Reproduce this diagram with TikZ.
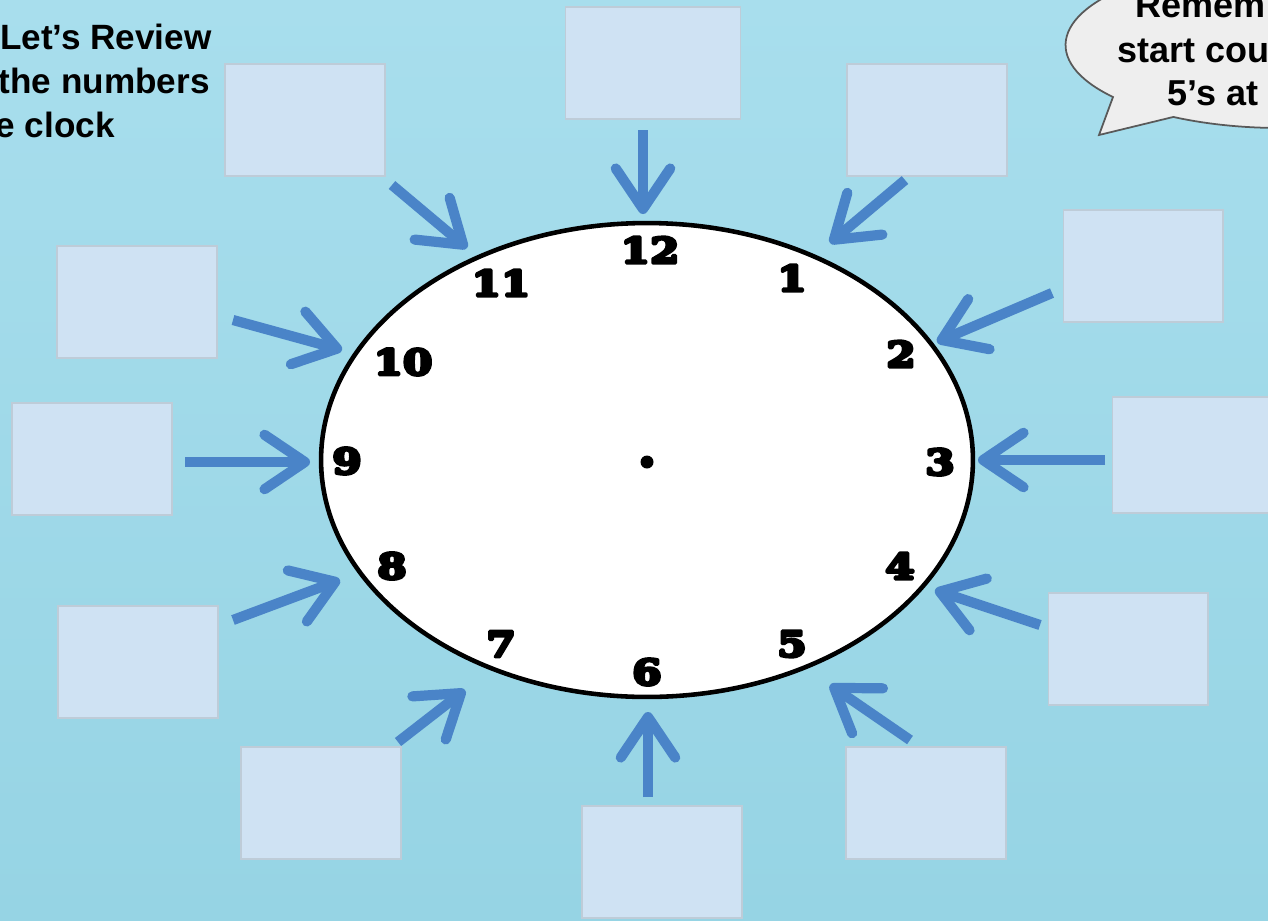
\documentclass[tikz,border=0pt]{standalone}
\usepackage{fontspec}
\setmainfont{Liberation Sans}
\newfontfamily\clockfont{DejaVu Serif}[UprightFont={* Bold}, FakeStretch=1.2]
\newcommand{\heavydigits}[1]{\special{pdf:literal direct 2 Tr 1 j 1.8 w}#1\special{pdf:literal direct 0 Tr}}
\usepackage{tikz}
\usetikzlibrary{positioning,shapes.geometric,arrows.meta}

\definecolor{skytop}{RGB}{168,222,237}
\definecolor{skybottom}{RGB}{150,212,228}
\definecolor{cardblue}{RGB}{207,226,243}
\definecolor{cardedge}{RGB}{190,204,216}
\definecolor{pointerblue}{RGB}{74,132,200}
\definecolor{bubblegray}{RGB}{238,238,238}

\begin{document}
\begin{tikzpicture}[x=0.02cm, y=-0.02cm,
    every node/.style={inner sep=0pt},
    card/.style={draw=cardedge, line width=0.6pt, fill=cardblue, minimum width=3.2cm, minimum height=2.24cm},
    pointer/.style={draw=pointerblue, line width=5.8pt,
        -{Straight Barb[length=23pt, width=31pt, line cap=round, line join=round]}},
    numeral/.style={font=\clockfont\fontsize{20}{21}\selectfont},
    note/.style={font=\bfseries\fontsize{20}{22}\selectfont},
    tipnote/.style={font=\bfseries\fontsize{20.5}{22}\selectfont}]
    \clip (0,0) rectangle (1268,920);
    \fill[top color=skytop, bottom color=skybottom] (0,0) rectangle (1268,920);

    % title, cut at the left edge
    \node[note, anchor=base east] (title1) at (212,49) {Let’s Review};
    \node[note, anchor=base east] (title2) at (210,93) {the numbers};
    \node[note, anchor=base east] (title3) at (115,137) {e clock};

    % speech bubble, cut at the right edge
    \draw[draw=black!65, line width=1pt, fill=bubblegray]
        (1113,97) arc[start angle=141.2, end angle=479.9, x radius=215, y radius=83]
        -- (1099,135) -- cycle;
    \node[tipnote, anchor=base west] (tip1) at (1135,17) {Remem};
    \node[tipnote, anchor=base west] (tip2) at (1117,62) {start cou};
    \node[tipnote, anchor=base west] (tip3) at (1167,105) {5’s at};

    % answer cards
    \node[card, minimum width=3.5cm] (b12) at (653,63) {};
    \node[card] (b1)  at (927,120) {};
    \node[card] (b2)  at (1143,266) {};
    \node[card, minimum height=2.32cm] (b3) at (1192,455) {};
    \node[card] (b4)  at (1128,649) {};
    \node[card] (b5)  at (926,803) {};
    \node[card] (b6)  at (662,862) {};
    \node[card] (b7)  at (321,803) {};
    \node[card] (b8)  at (138,662) {};
    \node[card] (b9)  at (92,459) {};
    \node[card] (b10) at (137,302) {};
    \node[card] (b11) at (305,120) {};

    % clock face
    \node[draw, line width=2.6pt, fill=white, ellipse,
          minimum width=13.04cm, minimum height=9.48cm] (face) at (647,460) {};
    \node[circle, fill=black, minimum size=0.26cm] (hub) at (647,462) {};

    % numerals
    \node[numeral] (n12) at (650,250) {\heavydigits{12}};
    \node[numeral] (n1)  at (792,278) {\heavydigits{1}};
    \node[numeral] (n2)  at (901,354) {\heavydigits{2}};
    \node[numeral] (n3)  at (940,462) {\heavydigits{3}};
    \node[numeral] (n4)  at (900,566) {\heavydigits{4}};
    \node[numeral] (n5)  at (792,644) {\heavydigits{5}};
    \node[numeral] (n6)  at (647,672) {\heavydigits{6}};
    \node[numeral] (n7)  at (501,644) {\heavydigits{7}};
    \node[numeral] (n8)  at (392,566) {\heavydigits{8}};
    \node[numeral] (n9)  at (347,461) {\heavydigits{9}};
    \node[numeral] (n10) at (403,362) {\heavydigits{10}};
    \node[numeral] (n11) at (501,283) {\heavydigits{11}};

    % arrow ends
    \coordinate (t12) at (643,130);  \coordinate (h12) at (643,214);
    \coordinate (t1)  at (905,180);  \coordinate (h1)  at (830,243);
    \coordinate (t2)  at (1052,293); \coordinate (h2)  at (937,342);
    \coordinate (t3)  at (1105,460); \coordinate (h3)  at (978,460);
    \coordinate (t4)  at (1040,625); \coordinate (h4)  at (935,590);
    \coordinate (t5)  at (910,740);  \coordinate (h5)  at (830,685);
    \coordinate (t6)  at (648,797);  \coordinate (h6)  at (648,712);
    \coordinate (t7)  at (398,742);  \coordinate (h7)  at (465,690);
    \coordinate (t8)  at (233,620);  \coordinate (h8)  at (340,580);
    \coordinate (t9)  at (185,462);  \coordinate (h9)  at (310,462);
    \coordinate (t10) at (233,320);  \coordinate (h10) at (342,350);
    \coordinate (t11) at (392,185);  \coordinate (h11) at (467,248);

    % arrows
    \draw[pointer] (t12) -- (h12);
    \draw[pointer] (t1) -- (h1);
    \draw[pointer] (t2) -- (h2);
    \draw[pointer] (t3) -- (h3);
    \draw[pointer] (t4) -- (h4);
    \draw[pointer] (t5) -- (h5);
    \draw[pointer] (t6) -- (h6);
    \draw[pointer] (t7) -- (h7);
    \draw[pointer] (t8) -- (h8);
    \draw[pointer] (t9) -- (h9);
    \draw[pointer] (t10) -- (h10);
    \draw[pointer] (t11) -- (h11);
\end{tikzpicture}
\end{document}
